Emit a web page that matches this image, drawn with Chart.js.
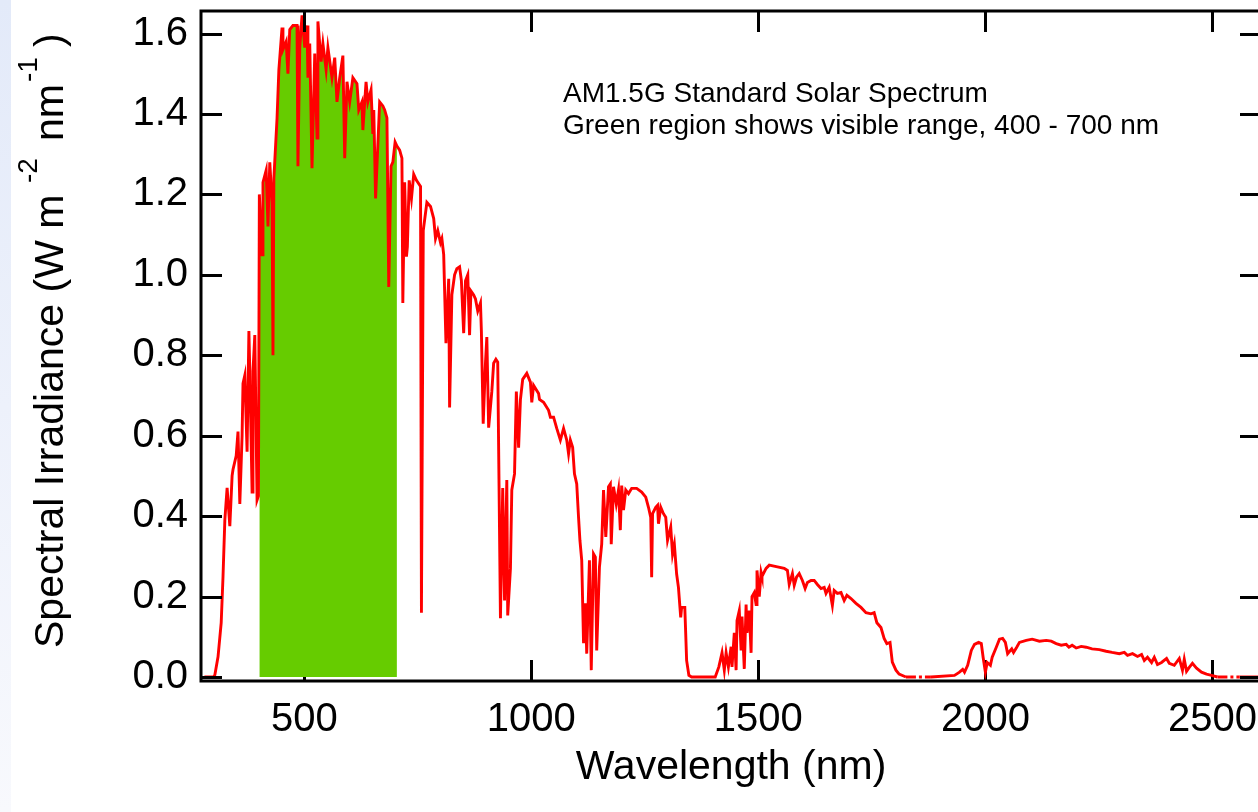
<!DOCTYPE html>
<html>
<head>
<meta charset="utf-8">
<script src="https://cdn.jsdelivr.net/npm/chart.js@4.4.1/dist/chart.umd.min.js"></script>
<style>
  html, body { margin: 0; padding: 0; overflow: hidden; background: #ffffff; width: 1258px; height: 812px; }
  #strip { position: absolute; left: 0; top: 0; width: 11px; height: 812px;
           background: linear-gradient(to bottom, #e3eaf9 0%, #edf1fb 50%, #f8f9fd 100%); }
  #wrap { position: absolute; left: 0; top: 0; width: 1264px; height: 812px; }
</style>
</head>
<body>
<div id="strip"></div>
<div id="wrap"><canvas id="c" width="1264" height="812"></canvas></div>
<script>
// ---- data ----
const wavelength = [
  280, 290, 300, 303, 310, 317, 321, 325, 330, 336, 341, 343, 350, 354, 358, 363, 365, 369, 374, 378,
  380, 385, 387, 391, 396, 399, 401, 407, 409, 416, 420, 424, 429, 431, 433, 440, 444, 451, 453, 460,
  464, 468, 475, 484, 486, 490, 495, 501, 506, 508, 512, 517, 523, 528, 530, 537, 541, 548, 552, 561,
  567, 572, 578, 585, 589, 594, 600, 607, 616, 620, 627, 629, 636, 640, 647, 651, 653, 657, 666, 673,
  677, 682, 686, 691, 695, 700, 704, 710, 715, 717, 721, 725, 727, 731, 736, 741, 747, 756, 758, 762,
  770, 778, 785, 789, 794, 800, 803, 807, 812, 818, 820, 825, 831, 836, 842, 846, 851, 855, 860, 864,
  867, 873, 877, 882, 888, 890, 894, 899, 902, 906, 913, 917, 922, 926, 932, 937, 941, 946, 948, 954,
  957, 963, 967, 972, 976, 981, 990, 998, 1001, 1005, 1016, 1018, 1027, 1038, 1042, 1049, 1056, 1064, 1071, 1078,
  1082, 1086, 1091, 1095, 1100, 1104, 1107, 1111, 1115, 1119, 1122, 1128, 1132, 1137, 1141, 1144, 1150, 1155, 1159, 1164,
  1170, 1174, 1176, 1181, 1187, 1192, 1196, 1199, 1203, 1208, 1214, 1221, 1232, 1243, 1252, 1258, 1263, 1265, 1267, 1274,
  1278, 1280, 1285, 1291, 1296, 1300, 1307, 1311, 1315, 1320, 1324, 1329, 1331, 1338, 1340, 1342, 1347, 1353, 1380, 1405,
  1413, 1420, 1425, 1429, 1434, 1440, 1442, 1447, 1451, 1453, 1458, 1462, 1464, 1469, 1473, 1475, 1480, 1484, 1486, 1491,
  1495, 1497, 1502, 1506, 1508, 1517, 1524, 1537, 1557, 1564, 1568, 1575, 1579, 1584, 1590, 1597, 1603, 1608, 1616, 1623,
  1630, 1638, 1645, 1649, 1656, 1663, 1667, 1674, 1682, 1689, 1695, 1704, 1715, 1726, 1737, 1748, 1755, 1761, 1770, 1777,
  1783, 1790, 1795, 1803, 1810, 1825, 1880, 1932, 1943, 1950, 1954, 1961, 1969, 1976, 1985, 1991, 1995, 2000, 2004, 2011,
  2015, 2024, 2031, 2038, 2044, 2049, 2058, 2062, 2069, 2075, 2090, 2103, 2119, 2134, 2145, 2156, 2167, 2178, 2184, 2191,
  2200, 2211, 2222, 2235, 2251, 2266, 2279, 2295, 2306, 2313, 2324, 2335, 2344, 2350, 2357, 2366, 2372, 2379, 2388, 2399,
  2405, 2416, 2427, 2434, 2438, 2443, 2449, 2456, 2465, 2476, 2487, 2498, 2511, 2535, 2560, 2620
];
const irradiance = [
  0, 0, 0, 0.005, 0.05, 0.135, 0.25, 0.39, 0.47, 0.375, 0.5, 0.516, 0.55, 0.61, 0.43, 0.60, 0.73, 0.75, 0.56, 0.86,
  0.76, 0.46, 0.76, 0.85, 0.44, 0.45, 1.20, 1.05, 1.23, 1.26, 1.12, 1.28, 1.18, 0.80, 1.24, 1.39, 1.51, 1.615, 1.56, 1.58,
  1.50, 1.61, 1.62, 1.62, 1.27, 1.565, 1.645, 1.565, 1.62, 1.49, 1.575, 1.265, 1.55, 1.34, 1.63, 1.53, 1.575, 1.51, 1.565, 1.49,
  1.54, 1.43, 1.49, 1.545, 1.29, 1.48, 1.43, 1.49, 1.475, 1.41, 1.43, 1.36, 1.48, 1.43, 1.46, 1.35, 1.41, 1.19, 1.43, 1.42,
  1.41, 1.39, 0.97, 1.27, 1.28, 1.33, 1.32, 1.31, 1.29, 0.93, 1.23, 1.045, 1.07, 1.235, 1.19, 1.25, 1.235, 1.22, 0.16, 1.11,
  1.18, 1.17, 1.14, 1.09, 1.11, 1.08, 1.09, 1.05, 0.83, 0.99, 0.67, 0.95, 1.00, 1.015, 1.02, 0.985, 0.855, 0.985, 1.00, 0.85,
  0.96, 0.95, 0.94, 0.91, 0.93, 0.86, 0.63, 0.78, 0.845, 0.62, 0.71, 0.78, 0.79, 0.783, 0.146, 0.47, 0.19, 0.49, 0.153, 0.27,
  0.465, 0.505, 0.71, 0.57, 0.69, 0.74, 0.755, 0.733, 0.683, 0.725, 0.705, 0.69, 0.683, 0.663, 0.646, 0.646, 0.618, 0.589, 0.618, 0.589,
  0.555, 0.589, 0.571, 0.505, 0.48, 0.397, 0.34, 0.29, 0.084, 0.183, 0.058, 0.29, 0.017, 0.306, 0.298, 0.066, 0.273, 0.33, 0.465, 0.348,
  0.473, 0.48, 0.33, 0.473, 0.43, 0.465, 0.365, 0.476, 0.415, 0.465, 0.456, 0.469, 0.469, 0.46, 0.447, 0.422, 0.397, 0.248, 0.406, 0.422,
  0.427, 0.381, 0.422, 0.406, 0.397, 0.34, 0.373, 0.306, 0.33, 0.256, 0.223, 0.148, 0.173, 0.173, 0.108, 0.041, 0.004, 0, 0, 0,
  0.025, 0.06, 0.017, 0.06, 0.025, 0.075, 0.025, 0.11, 0.017, 0.14, 0.165, 0.066, 0.15, 0.02, 0.18, 0.11, 0.165, 0.06, 0.2, 0.21,
  0.18, 0.265, 0.2, 0.26, 0.25, 0.27, 0.278, 0.275, 0.27, 0.265, 0.23, 0.257, 0.228, 0.248, 0.257, 0.24, 0.22, 0.235, 0.24, 0.24,
  0.23, 0.22, 0.223, 0.208, 0.223, 0.178, 0.215, 0.208, 0.21, 0.19, 0.203, 0.195, 0.183, 0.173, 0.16, 0.157, 0.16, 0.135, 0.123, 0.096,
  0.083, 0.086, 0.037, 0.017, 0.007, 0, 0, 0.004, 0.012, 0.019, 0.012, 0.029, 0.066, 0.081, 0.086, 0.083, 0.049, 0.012, 0.036, 0.029,
  0.049, 0.074, 0.094, 0.096, 0.086, 0.058, 0.07, 0.061, 0.074, 0.086, 0.091, 0.094, 0.089, 0.091, 0.089, 0.083, 0.079, 0.081, 0.074, 0.079,
  0.072, 0.076, 0.074, 0.07, 0.068, 0.064, 0.061, 0.058, 0.061, 0.054, 0.058, 0.051, 0.056, 0.041, 0.049, 0.036, 0.049, 0.031, 0.036, 0.046,
  0.034, 0.029, 0.046, 0.017, 0.044, 0.014, 0.024, 0.034, 0.022, 0.012, 0.007, 0.004, 0, 0, 0, 0
];
const visibleRange = [400, 706];
const xTickValues = [500, 1000, 1500, 2000, 2500];
const yTickValues = [0.0, 0.2, 0.4, 0.6, 0.8, 1.0, 1.2, 1.4, 1.6];
const xLimits = [272.5, 2607];
const yLimits = [-0.01, 1.656];
const xAxisTitle = 'Wavelength (nm)';
const yAxisTitleParts = ['Spectral Irradiance (W m', '-2', 'nm', '-1', ')'];
const noteLines = ['AM1.5G Standard Solar Spectrum', 'Green region shows visible range, 400 - 700 nm'];
const dashedZeroRanges = [[1825, 1932], [2511, 2560]];

// ---- build datasets from the arrays ----
const spectrum = wavelength.map((w, i) => ({ x: w, y: irradiance[i] }));
const visible = spectrum.filter(p => p.x >= visibleRange[0] && p.x <= visibleRange[1]);

const FONT = '"Liberation Sans", Arial, Helvetica, sans-serif';

const framePlugin = {
  id: 'frame',
  beforeDatasetsDraw(chart) {
    const { ctx, chartArea: a, scales: { x } } = chart;
    ctx.save();
    ctx.strokeStyle = '#000'; ctx.lineWidth = 3;
    xTickValues.forEach(v => {
      const px = Math.round(x.getPixelForValue(v)) + 0.5;
      ctx.beginPath(); ctx.moveTo(px, a.bottom); ctx.lineTo(px, a.bottom - 21); ctx.stroke();
    });
    ctx.restore();
  },
  afterDatasetsDraw(chart) {
    const { ctx, chartArea: a, scales: { x, y } } = chart;
    ctx.save();
    ctx.strokeStyle = '#000'; ctx.lineWidth = 3;
    ctx.strokeRect(a.left, a.top, a.right - a.left, a.bottom - a.top);
    xTickValues.forEach(v => {
      const px = Math.round(x.getPixelForValue(v)) + 0.5;
      ctx.beginPath(); ctx.moveTo(px, a.top); ctx.lineTo(px, a.top + 21); ctx.stroke();
    });
    yTickValues.forEach(v => {
      const py = Math.round(y.getPixelForValue(v)) + 0.5;
      ctx.beginPath(); ctx.moveTo(a.left, py); ctx.lineTo(a.left + 21, py); ctx.stroke();
      ctx.beginPath(); ctx.moveTo(a.right - 21, py); ctx.lineTo(a.right, py); ctx.stroke();
    });
    // note text
    ctx.fillStyle = '#000';
    ctx.font = '28px ' + FONT;
    ctx.textBaseline = 'alphabetic';
    ctx.textAlign = 'left';
    noteLines.forEach((t, i) => ctx.fillText(t, 563, 102 + i * 32));
    ctx.restore();
  },
  afterDraw(chart) {
    const ctx = chart.ctx;
    ctx.save();
    ctx.fillStyle = '#000';
    ctx.textBaseline = 'alphabetic';
    ctx.textAlign = 'left';
    ctx.translate(63, 648);
    ctx.rotate(-Math.PI / 2);
    const big = '41px ' + FONT, small = '28px ' + FONT;
    const offsets = [0, 465, 507, 566, 601];
    const raise = [0, -26, 0, -26, 0];
    yAxisTitleParts.forEach((t, i) => {
      ctx.font = (i === 1 || i === 3) ? small : big;
      ctx.fillText(t, offsets[i], raise[i]);
    });
    ctx.restore();
  }
};

new Chart(document.getElementById('c'), {
  type: 'line',
  data: {
    datasets: [
      {
        label: 'AM1.5G', data: spectrum, order: 0,
        borderColor: '#ff0000', borderWidth: 2.9, pointRadius: 0, fill: false, tension: 0,
        segment: {
          borderDash: c => {
            const x0 = c.p0.parsed.x, x1 = c.p1.parsed.x;
            const inside = dashedZeroRanges.some(r => x0 >= r[0] && x1 <= r[1]);
            return (inside && c.p0.parsed.y === 0 && c.p1.parsed.y === 0) ? [10, 3, 3, 3] : undefined;
          }
        }
      },
      {
        label: 'Visible', data: visible, order: 1,
        borderWidth: 0, borderColor: 'rgba(0,0,0,0)', backgroundColor: '#66cc00',
        pointRadius: 0, fill: 'origin', tension: 0
      }
    ]
  },
  options: {
    responsive: false, animation: false, devicePixelRatio: 1,
    layout: { autoPadding: false, padding: { left: 0, top: 11, right: 3, bottom: 0 } },
    plugins: { legend: { display: false }, tooltip: { enabled: false } },
    scales: {
      x: {
        type: 'linear', min: xLimits[0], max: xLimits[1],
        afterBuildTicks: s => { s.ticks = xTickValues.map(v => ({ value: v })); },
        afterFit: s => { s.height = 131; s.paddingLeft = 0; s.paddingRight = 0; },
        grid: { display: false }, border: { display: false },
        ticks: { color: '#000', font: { family: FONT, size: 40 }, padding: 7, maxRotation: 0, autoSkip: false,
                 callback: v => String(v) },
        title: { display: true, text: xAxisTitle, color: '#000', font: { family: FONT, size: 41 }, padding: { top: 0, bottom: 20 } }
      },
      y: {
        type: 'linear', min: yLimits[0], max: yLimits[1],
        afterBuildTicks: s => { s.ticks = yTickValues.map(v => ({ value: v })); },
        afterFit: s => { s.width = 201; s.paddingTop = 0; s.paddingBottom = 0; },
        grid: { display: false }, border: { display: false },
        ticks: { color: '#000', font: { family: FONT, size: 40 }, padding: 5, autoSkip: false,
                 callback: v => Number(v).toFixed(1) }
      }
    }
  },
  plugins: [framePlugin]
});
</script>
</body>
</html>
